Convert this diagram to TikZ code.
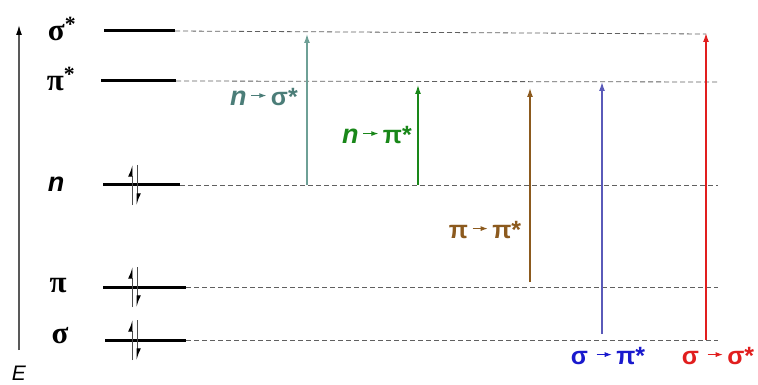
\documentclass[tikz,border=0pt]{standalone}
\usepackage{fontspec}
\setmainfont{Liberation Sans}
\newfontfamily\grk{Liberation Serif}
\usetikzlibrary{arrows.meta}
\definecolor{cns}{RGB}{75,125,120}
\definecolor{cnsa}{RGB}{110,160,150}
\definecolor{cnp}{RGB}{25,135,25}
\definecolor{cpp}{RGB}{140,90,30}
\definecolor{csp}{RGB}{25,25,205}
\definecolor{cspa}{RGB}{90,90,185}
\definecolor{css}{RGB}{225,30,30}
\newcommand{\sarr}{\,\tikz[baseline=-0.75ex]\draw[line width=0.9pt,-{Latex[length=7pt,width=5pt]}] (0,0)--(15pt,0);\,}
\newcommand{\nn}{{\fontsize{27}{28}\selectfont\itshape n}}
\begin{document}
\begin{tikzpicture}[x=1pt,y=-1pt,
  lvl/.style={line width=3pt},
  guide/.style={gray!75!black,line width=0.8pt,dash pattern=on 5pt off 3pt},
  lab/.style={font=\fontsize{31}{34}\selectfont\bfseries\grk},
  tlab/.style={font=\fontsize{25}{28}\selectfont\bfseries},
  trans/.style={line width=1.3pt,-{Latex[length=9pt,width=6pt]}},
  spin/.style={line width=0.9pt,gray!60!black,-{Latex[left,length=10pt,width=8pt,black]}}]
\useasboundingbox (0,0) rectangle (758,385);
% axis
\coordinate (ax0) at (19,350);
\coordinate (ax1) at (19,25);
\draw[gray!70!black,line width=1.3pt,-{Latex[length=10pt,width=6pt,black]}] (ax0) -- (ax1);
\node[font=\fontsize{21}{24}\selectfont\itshape] (E) at (19,373) {E};
% labels
\node[lab] (Lss) at (62,29) {σ\textsuperscript{*}};
\node[lab] (Lps) at (61,79) {π\textsuperscript{*}};
\node[font=\fontsize{27}{28}\selectfont\bfseries\itshape] (Ln) at (56,184) {n};
\node[lab] (Lp) at (58,286) {π};
\node[lab] (Ls) at (60,336) {σ};
% levels
\coordinate (ss0) at (104,31); \coordinate (ss1) at (175,31); \coordinate (ssE) at (706,34);
\coordinate (ps0) at (101,81); \coordinate (ps1) at (176,81); \coordinate (psE) at (718,82);
\coordinate (n0) at (103,185); \coordinate (n1) at (180,185); \coordinate (nE) at (718,185);
\coordinate (p0) at (103,287); \coordinate (p1) at (186,287); \coordinate (pE) at (718,287);
\coordinate (s0) at (105,340); \coordinate (s1) at (186,340); \coordinate (sE) at (718,340);
\foreach \a in {ss,ps,n,p,s}{
  \draw[lvl] (\a0) -- (\a1);
  \draw[guide] (\a1) -- (\a E);
}
% electron pairs
\foreach \y in {185,287,340}{
  \draw[spin] (132,\y+20) -- (132,\y-20);
  \draw[spin] (137,\y-20) -- (137,\y+20);
}
% transitions
\coordinate (a1s) at (307,185); \coordinate (a1e) at (307,34);
\coordinate (a2s) at (418,185); \coordinate (a2e) at (418,85);
\coordinate (a3s) at (530,282); \coordinate (a3e) at (530,88);
\coordinate (a4s) at (602,334); \coordinate (a4e) at (602,82);
\coordinate (a5s) at (706,340); \coordinate (a5e) at (706,33);
\draw[trans,cnsa] (a1s) -- (a1e);
\draw[trans,cnp] (a2s) -- (a2e);
\draw[trans,cpp] (a3s) -- (a3e);
\draw[trans,cspa] (a4s) -- (a4e);
\draw[trans,css] (a5s) -- (a5e);
\node[tlab,text=cns] (t1) at (264,97) {\nn\sarr σ*};
\node[tlab,text=cnp] (t2) at (377,135) {\nn\sarr π*};
\node[tlab,text=cpp] (t3) at (485,230) {π\sarr π*};
\node[tlab,text=csp] (t4) at (608,356) {σ\,\sarr π*};
\node[tlab,text=css] (t5) at (718,356) {σ\,\sarr σ*};
\end{tikzpicture}
\end{document}
